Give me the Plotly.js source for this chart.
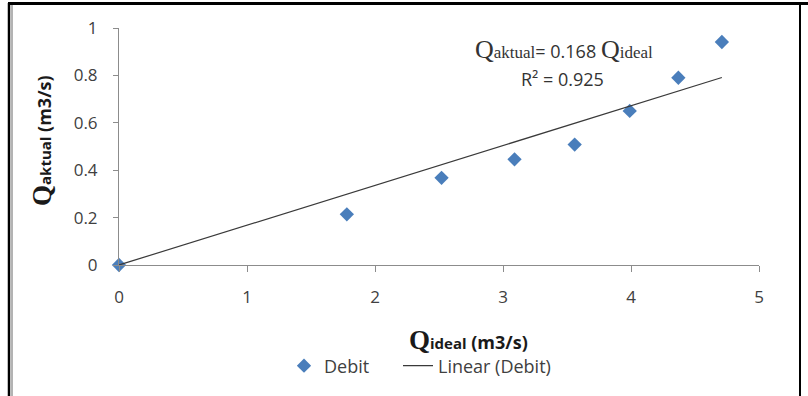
<!DOCTYPE html>
<html>
<head>
<meta charset="utf-8">
<script src="https://cdn.plot.ly/plotly-3.0.1.min.js"></script>
<style>
  html, body { margin: 0; padding: 0; background: #ffffff; }
  #chart { width: 808px; height: 396px; }
</style>
</head>
<body>
<div id="chart"></div>
<script>
// Measured discharge: ideal vs actual (m3/s)
const qIdeal  = [0, 1.78, 2.52, 3.09, 3.56, 3.99, 4.37, 4.71];
const qAktual = [0, 0.214, 0.368, 0.446, 0.508, 0.650, 0.790, 0.941];

// Linear trendline through the origin, as stated in the equation label
const slope = 0.168;
const rSquared = 0.925;
const trendX = [0, 4.71];
const trendY = trendX.map(x => slope * x);

const xTicks = [0, 1, 2, 3, 4, 5];
const yTicks = [0, 0.2, 0.4, 0.6, 0.8, 1];

const sans = '"Open Sans", "Noto Sans", sans-serif';
const serifSpan = "font-family:'Liberation Serif'";
const textCol = '#404040';

const traces = [
  {
    x: qIdeal, y: qAktual, name: 'Debit', type: 'scatter', mode: 'markers',
    marker: { symbol: 'diamond', size: 11, color: '#4a7ebb' },
    cliponaxis: false, legend: 'legend'
  },
  {
    x: trendX, y: trendY, name: 'Linear (Debit)', type: 'scatter', mode: 'lines',
    line: { color: '#3a3a3a', width: 1.2 },
    cliponaxis: false, legend: 'legend2'
  }
];

// Paper coordinates for pixel positions (plot area spans pixels 119..759 x 28..265)
const px = p => (p - 119) / 640;
const py = p => (265 - p) / 237;

const legendBase = {
  orientation: 'h', xanchor: 'left', y: py(366), yanchor: 'middle',
  font: { family: sans, size: 18, color: textCol },
  itemwidth: 30, tracegroupgap: 0, bgcolor: 'rgba(0,0,0,0)'
};

const layout = {
  width: 808, height: 396,
  margin: { l: 119, r: 49, t: 28, b: 131, pad: 0 },
  paper_bgcolor: '#ffffff', plot_bgcolor: '#ffffff',
  showlegend: true,
  legend: Object.assign({}, legendBase, { x: px(284) }),
  legend2: Object.assign({}, legendBase, { x: px(398) }),
  xaxis: {
    range: [0, 5], tickvals: xTicks, ticktext: xTicks.map(String),
    showgrid: false, zeroline: false,
    showline: true, linecolor: '#8c8c8c', linewidth: 1,
    ticks: 'outside', ticklen: 6, tickcolor: '#8c8c8c', ticklabelstandoff: 11,
    tickfont: { family: sans, size: 17, color: textCol }
  },
  yaxis: {
    range: [0, 1], tickvals: yTicks, ticktext: yTicks.map(v => String(v)),
    showgrid: false, zeroline: false,
    showline: true, linecolor: '#8c8c8c', linewidth: 1,
    ticks: 'outside', ticklen: 5, tickcolor: '#8c8c8c', ticklabelstandoff: 12,
    tickfont: { family: sans, size: 17, color: textCol }
  },
  annotations: [
    {
      xref: 'paper', yref: 'paper', x: px(468), y: py(340), xanchor: 'center', yanchor: 'middle',
      showarrow: false,
      text: '<span style="' + serifSpan + ';font-size:27px"><b>Q</b></span>' +
            '<span style="font-size:15px"><b>ideal</b></span>' +
            '<span style="font-size:18px"><b> (m3/s)</b></span>',
      font: { family: sans, size: 18, color: '#1a1a1a' }
    },
    {
      xref: 'paper', yref: 'paper', x: px(42), y: py(141), xanchor: 'center', yanchor: 'middle',
      showarrow: false, textangle: -90,
      text: '<span style="' + serifSpan + ';font-size:27px"><b>Q</b></span>' +
            '<span style="font-size:15px"><b>aktual</b></span>' +
            '<span style="font-size:18px"><b> (m3/s)</b></span>',
      font: { family: sans, size: 18, color: '#1a1a1a' }
    },
    {
      xref: 'paper', yref: 'paper', x: px(564), y: py(50), xanchor: 'center', yanchor: 'middle',
      showarrow: false,
      text: '<span style="' + serifSpan + ';font-size:26px">Q</span>' +
            '<span style="' + serifSpan + ';font-size:17px">aktual</span>' +
            '<span style="font-size:18px">= ' + slope.toFixed(3) + ' </span>' +
            '<span style="' + serifSpan + ';font-size:26px">Q</span>' +
            '<span style="' + serifSpan + ';font-size:17px">ideal</span>',
      font: { family: sans, size: 18, color: '#333333' }
    },
    {
      xref: 'paper', yref: 'paper', x: px(562), y: py(79), xanchor: 'center', yanchor: 'middle',
      showarrow: false,
      text: 'R² = ' + rSquared.toFixed(3),
      font: { family: sans, size: 18, color: '#333333' }
    }
  ],
  shapes: [
    // outer frame: heavy top and side rules, thin grey inner rule on the left
    { type: 'line', xref: 'paper', yref: 'paper', x0: px(8), x1: px(808), y0: py(3.5), y1: py(3.5),
      line: { color: '#000000', width: 3 } },
    { type: 'line', xref: 'paper', yref: 'paper', x0: px(9), x1: px(9), y0: py(3), y1: py(396),
      line: { color: '#000000', width: 2.5 } },
    { type: 'line', xref: 'paper', yref: 'paper', x0: px(12), x1: px(12), y0: py(5), y1: py(396),
      line: { color: '#9a9a9a', width: 1.5 } },
    { type: 'line', xref: 'paper', yref: 'paper', x0: px(800), x1: px(800), y0: py(3), y1: py(396),
      line: { color: '#000000', width: 2 } }
  ]
};

Plotly.newPlot('chart', traces, layout, { displayModeBar: false, staticPlot: true });
</script>
</body>
</html>
